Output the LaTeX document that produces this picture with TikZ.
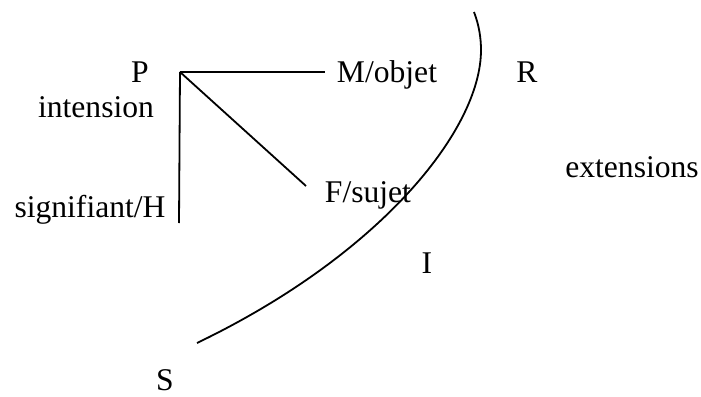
\documentclass[tikz,border=0pt]{standalone}
\usepackage{fontspec}
\setmainfont{Liberation Serif}
\usepackage{tikz}
\usetikzlibrary{positioning}

\begin{document}
\begin{tikzpicture}[
  x=0.5pt, y=-0.5pt,
  lbl/.style={anchor=base, inner sep=0pt, font=\fontsize{15.8}{19}\selectfont},
  stroke/.style={line width=0.9pt}
]
\useasboundingbox (0,0) rectangle (701,396);
% labels
\node[lbl] (P) at (140,82) {P};
\node[lbl] (int) at (96,117) {intension};
\node[lbl] (sig) at (90,217) {signifiant/H};
\node[lbl] (M) at (387,82) {M/objet};
\node[lbl] (F) at (368,202) {F/sujet};
\node[lbl] (R) at (527,82) {R};
\node[lbl] (ext) at (632,177) {extensions};
\node[lbl] (I) at (427,273) {I};
\node[lbl] (S) at (165,390) {S};

% branches
\coordinate (top) at (180,72);
\coordinate (mend) at (325,72);
\coordinate (fend) at (306,186);
\coordinate (send) at (179,223);
\draw[stroke] (top) -- (mend);
\draw[stroke] (top) -- (fend);
\draw[stroke] (top) -- (send);

% the curve
\coordinate (ca) at (474,12);
\coordinate (cb) at (481,50);
\coordinate (cc) at (197,343);
\draw[stroke] (ca) .. controls (479,25) and (481,38) .. (cb)
  .. controls (481,130) and (380,255) .. (cc);
\end{tikzpicture}
\end{document}
